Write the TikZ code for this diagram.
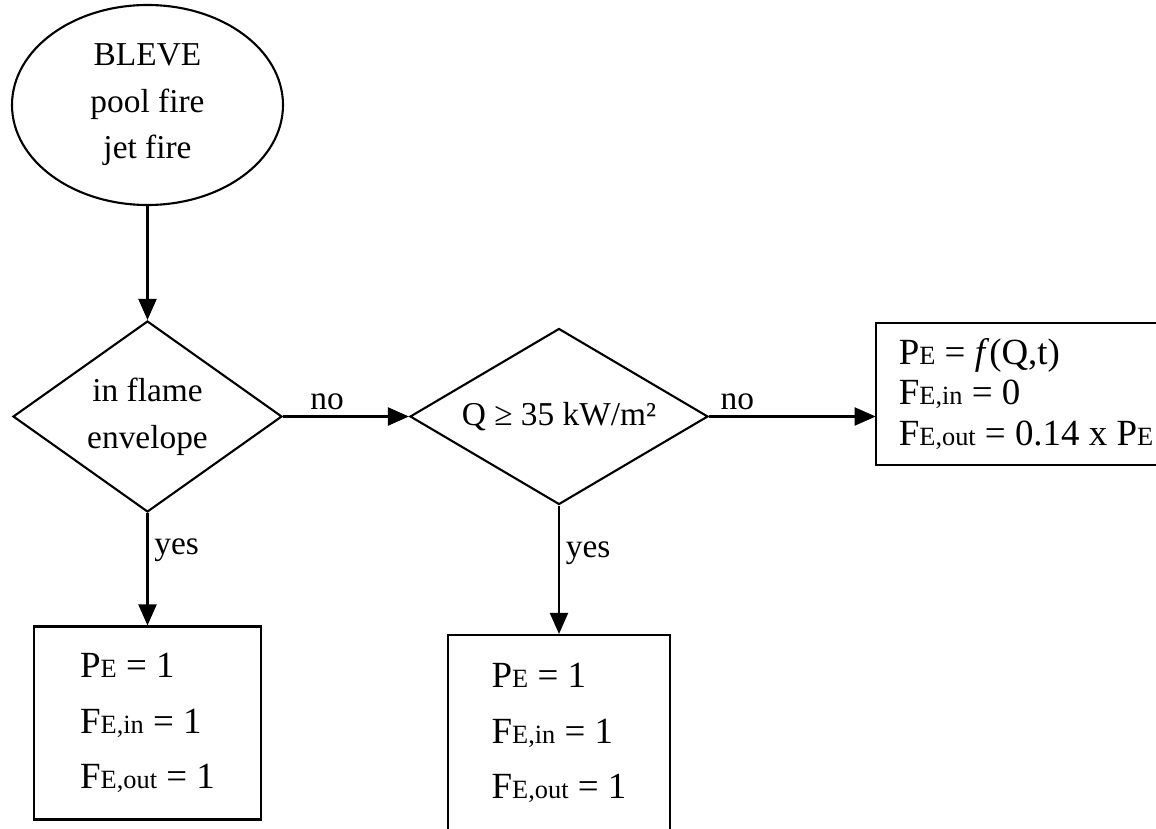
\documentclass[tikz,border=0pt]{standalone}
\usepackage{fontspec}
\setmainfont{Liberation Serif}
\usepackage{tikz}
\usetikzlibrary{shapes.geometric, arrows.meta, positioning}
\newcommand{\subtxt}[1]{{\fontsize{15}{15}\selectfont #1}}
\tikzstyle{fireset} = [ellipse, draw=black, line width=1.2pt, minimum width=5.42cm, minimum height=4cm, inner sep=0pt, align=center, font=\fontsize{19}{26.5}\selectfont]
\tikzstyle{decision} = [diamond, draw=black, line width=1.2pt, aspect=1.41, minimum width=5.38cm, minimum height=3.82cm, inner sep=0pt, align=center, font=\fontsize{19}{26.7}\selectfont]
\tikzstyle{result} = [rectangle, draw=black, line width=1.2pt, minimum width=4.54cm, minimum height=3.86cm, align=left, font=\fontsize{21}{31.5}\selectfont]
\tikzstyle{outcome} = [rectangle, minimum width=6cm, minimum height=2.84cm, align=left, font=\fontsize{21}{23.2}\selectfont]
\tikzstyle{lbl} = [font=\fontsize{19}{19}\selectfont]
\tikzstyle{arrow} = [line width=1.2pt, -{Triangle[length=0.42cm, width=0.36cm]}]

\begin{document}
\begin{tikzpicture}[node distance=6.15cm]
    \useasboundingbox (0,0) rectangle (23.12,-16.58);
    % Fire event
    \node (event) [fireset] at (2.95,-2.1) {BLEVE\\pool fire\\jet fire};
    
    % Flame envelope check
    \node (flame) [decision, below of=event, yshift=-0.08cm] {in flame\\envelope};
    
    % Heat flux check
    \node (qcheck) [decision, right of=flame, xshift=2.08cm, minimum width=5.96cm, minimum height=3.52cm, aspect=1.7] {Q ≥ 35 kW/m²};
    
    % Outcomes
    \node (inside) [result, below of=flame, yshift=0.02cm] {P\subtxt{E} = 1\\F\subtxt{E,in} = 1\\F\subtxt{E,out} = 1};
    \node (hit) [result, below of=qcheck, yshift=-0.18cm, minimum width=4.44cm, minimum height=3.92cm] {P\subtxt{E} = 1\\F\subtxt{E,in} = 1\\F\subtxt{E,out} = 1};
    \node (prob) [outcome, right of=qcheck, xshift=3.19cm, yshift=0.45cm] {P\subtxt{E} = \textit{f}(Q,t)\\F\subtxt{E,in} = 0\\F\subtxt{E,out} = 0.14 x P\subtxt{E}};
    % box runs past the right edge
    \draw [line width=1.2pt] (prob.north east) -- (prob.north west) -- (prob.south west) -- (prob.south east);
    
    % Arrows
    \draw [arrow] (event) -- (flame);
    \draw [arrow] (flame) -- node[lbl, above, pos=0.35] {no} (qcheck);
    \draw [arrow] (qcheck) -- node[lbl, above, pos=0.17] {no} (qcheck.east -| prob.west);
    \draw [arrow] (flame) -- node[lbl, right, pos=0.33] {yes} (inside);
    \draw [arrow] (qcheck) -- node[lbl, right, pos=0.37] {yes} (hit);
\end{tikzpicture}
\end{document}
